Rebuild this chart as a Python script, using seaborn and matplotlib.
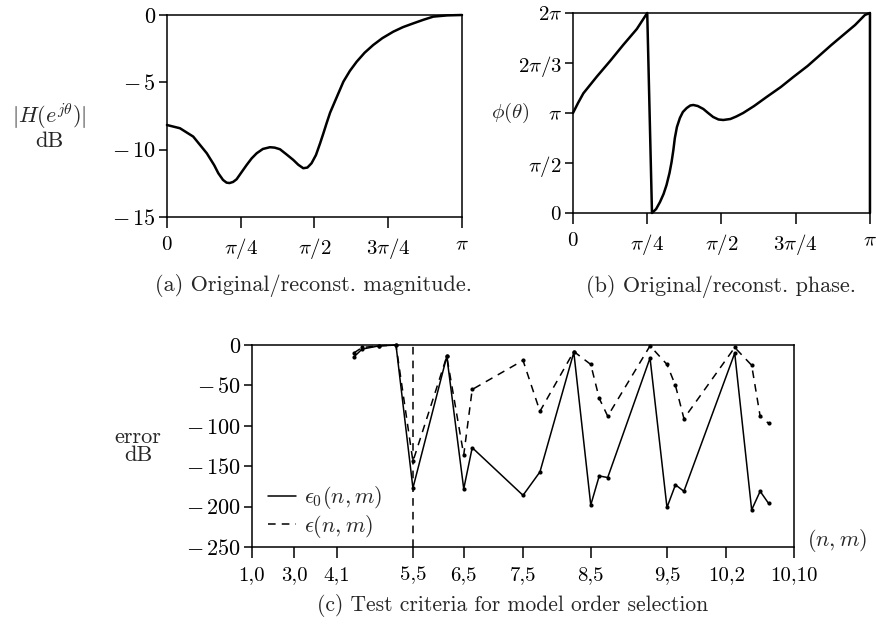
import numpy as np
import pandas as pd
import seaborn as sns
import matplotlib.pyplot as plt

# ---------------- data ----------------
# (a) magnitude, theta in units of pi
theta_mag = [0, .044, .089, .135, .160, .174, .190, .202, .212, .224, .236,
             .252, .270, .287, .304, .325, .349, .365, .383, .405, .428,
             .445, .462, .476, .490, .505, .519, .530, .541, .553, .569,
             .598, .620, .643, .670, .699, .730, .767, .800, .835, .870,
             .903, .950, 1.0]
mag_db = [-8.17, -8.41, -9.03, -10.27, -11.15, -11.75, -12.25, -12.45,
          -12.48, -12.4, -12.2, -11.7, -11.14, -10.65, -10.27, -9.95, -9.82,
          -9.85, -9.97, -10.35, -10.76, -11.12, -11.38, -11.33, -11.01,
          -10.4, -9.53, -8.8, -8.04, -7.25, -6.43, -4.95, -4.15, -3.47,
          -2.8, -2.23, -1.72, -1.24, -0.9, -0.62, -0.35, -0.12, -0.03, 0.0]

# (b) phase, theta and phi in units of pi
theta_ph = [0, .017, .035, .080, .125, .169, .215, .25, .266, .280, .293,
            .305, .315, .325, .332, .338, .343, .350, .360, .370, .383,
            .395, .405, .420, .439, .455, .472, .490, .506, .530, .550,
            .573, .610, .652, .700, .742, .790, .832, .870, .910, .950,
            .983, 1.0, 1.0]
phase_pi = [1.0, 1.10, 1.197, 1.363, 1.52, 1.68, 1.84, 2.0, 0.0, 0.04, 0.11,
            0.19, 0.28, 0.40, 0.51, 0.63, 0.75, 0.86, 0.95, 1.01, 1.05,
            1.075, 1.08, 1.07, 1.04, 1.0, 0.96, 0.935, 0.93, 0.94, 0.965,
            1.0, 1.07, 1.16, 1.26, 1.36, 1.47, 1.58, 1.68, 1.78, 1.88,
            1.98, 2.0, 0.0]

# (c) test criteria vs model order (n,m)
n_ord = [4, 4, 5, 5, 5, 6, 6, 6, 7, 7, 8, 8, 8, 8, 9, 9, 9, 9, 10, 10, 10, 10]
m_ord = [3, 4, 1, 3, 5, 3, 5, 6, 5, 7, 3, 5, 6, 7, 3, 5, 6, 7, 3, 5, 6, 7]
eps0 = [-15, -5, -1, 0, -177, -14, -178, -127, -186, -157, -9, -198, -162,
        -164, -16, -201, -173, -181, -10, -204, -181, -196]
eps = [-10, -3, -1, 0, -144, -14, -136, -55, -19, -82, -8, -24, -66, -88,
       -1, -24, -50, -91, -3, -25, -88, -97]
tick_orders = [(1, 0), (3, 0), (4, 1), (5, 5), (6, 5), (7, 5), (8, 5),
               (9, 5), (10, 2), (10, 10)]
selected = (5, 5)


def order_index(n, m):
    # position of (n,m) when orders are listed as (1,0),(1,1),(2,0),...
    return (n - 1) * (n + 2) // 2 + m


def neg(v):
    # tick label with a little room after the minus sign, as in the print
    return '$0$' if v == 0 else r'$-\,%d$' % abs(v)


sns.set_style("ticks")
plt.rcParams.update({
    'font.family': 'cmr10',
    'mathtext.fontset': 'cm',
    'axes.unicode_minus': False,
    'axes.formatter.use_mathtext': True,
    'axes.linewidth': 1.1,
    'xtick.direction': 'out', 'ytick.direction': 'out',
    'xtick.major.size': 8, 'ytick.major.size': 6,
    'xtick.major.width': 1.1, 'ytick.major.width': 1.1,
    'xtick.labelsize': 15, 'ytick.labelsize': 16,
    'xtick.color': 'k', 'ytick.color': 'k',
    'axes.edgecolor': 'k',
})

fig = plt.figure(figsize=(8.76, 6.3), dpi=100)
ax_a = fig.add_axes([0.1906, 0.6556, 0.3368, 0.3206])
ax_b = fig.add_axes([0.6541, 0.6619, 0.3390, 0.3175])
ax_c = fig.add_axes([0.2877, 0.1317, 0.6187, 0.3206])

pi_ticks = [0, np.pi / 4, np.pi / 2, 3 * np.pi / 4, np.pi]
pi_labels = ['$0$', r'$\pi/4$', r'$\pi/2$', r'$3\pi/4$', r'$\pi$']

#------------------------------- (a) magnitude -------------------------------
df_a = pd.DataFrame({'theta': np.array(theta_mag) * np.pi, 'mag': mag_db})
sns.lineplot(data=df_a, x='theta', y='mag', ax=ax_a, color='k', lw=1.8,
             estimator=None, sort=False, clip_on=False)
ax_a.set_xlim(0, np.pi)
ax_a.set_ylim(-15, 0)
ax_a.set_xticks(pi_ticks, pi_labels)
ax_a.set_yticks([0, -5, -10, -15], [neg(v) for v in [0, -5, -10, -15]])
ax_a.set_xlabel('')
ax_a.set_ylabel('$|H(e^{j\\theta})|$\ndB', rotation=0, fontsize=16,
                ha='center', va='center', linespacing=1.0)
ax_a.yaxis.set_label_coords(-0.40, 0.45)
ax_a.tick_params(axis='y', pad=2)
ax_a.tick_params(axis='x', pad=6)
ax_a.text(0.495, -0.34, '(a) Original/reconst. magnitude.', fontsize=16,
          transform=ax_a.transAxes, ha='center', va='center')

#------------------------------- (b) phase -----------------------------------
df_b = pd.DataFrame({'theta': np.array(theta_ph) * np.pi,
                     'phi': np.array(phase_pi) * np.pi})
sns.lineplot(data=df_b, x='theta', y='phi', ax=ax_b, color='k', lw=1.8,
             estimator=None, sort=False, clip_on=False)
ax_b.set_xlim(0, np.pi)
ax_b.set_ylim(0, 2 * np.pi)
ax_b.set_xticks(pi_ticks, pi_labels)
ax_b.set_yticks([0, np.pi / 2, np.pi, 3 * np.pi / 2, 2 * np.pi],
                ['$0$', r'$\pi/2$', r'$\pi$', r'$2\pi/3$', r'$2\pi$'],
                fontsize=15)
ax_b.set_xlabel('')
ax_b.set_ylabel(r'$\phi(\theta)$', rotation=0, fontsize=15,
                ha='center', va='center')
ax_b.yaxis.set_label_coords(-0.21, 0.5)
ax_b.tick_params(axis='y', pad=2)
ax_b.tick_params(axis='x', pad=6)
ax_b.text(0.50, -0.365, '(b) Original/reconst. phase.', fontsize=16,
          transform=ax_b.transAxes, ha='center', va='center')

#------------------------------- (c) test criteria ---------------------------
df_c = pd.DataFrame({'n': n_ord, 'm': m_ord, 'eps0': eps0, 'eps': eps})
df_c['idx'] = [order_index(n, m) for n, m in zip(df_c.n, df_c.m)]

sns.lineplot(data=df_c, x='idx', y='eps0', ax=ax_c, color='k', lw=1.1,
             estimator=None, sort=False, label=r'$\epsilon_0(n,m)$',
             clip_on=False)
sns.lineplot(data=df_c, x='idx', y='eps', ax=ax_c, color='k', lw=1.1,
             linestyle=(0, (5, 4)), estimator=None, sort=False,
             label=r'$\epsilon(n,m)$', clip_on=False)
sns.scatterplot(data=df_c, x='idx', y='eps0', ax=ax_c, color='k', s=9,
                linewidth=0, clip_on=False)
sns.scatterplot(data=df_c, x='idx', y='eps', ax=ax_c, color='k', s=9,
                linewidth=0, clip_on=False)
ax_c.axvline(order_index(*selected), color='k', lw=1.1, linestyle=(0, (5, 4)))

ax_c.set_xlim(0, order_index(10, 10))
ax_c.set_ylim(-250, 0)
ax_c.set_xticks([order_index(n, m) for n, m in tick_orders],
                [f'{n},{m}' for n, m in tick_orders])
c_yt = [0, -50, -100, -150, -200, -250]
ax_c.set_yticks(c_yt, [neg(v) for v in c_yt])
ax_c.tick_params(axis='y', pad=2)
ax_c.tick_params(axis='x', pad=6)
ax_c.set_xlabel('$(n,m)$', fontsize=16, ha='center', va='center')
ax_c.xaxis.set_label_coords(1.08, 0.03)
ax_c.set_ylabel('error\ndB', rotation=0, fontsize=16, ha='center',
                va='center', linespacing=0.9)
ax_c.yaxis.set_label_coords(-0.21, 0.5)
ax_c.legend(loc='lower left', bbox_to_anchor=(0.0, -0.04), frameon=False,
            fontsize=16, handlelength=1.3, borderaxespad=0.3,
            labelspacing=0.05, handletextpad=0.35)
ax_c.text(0.48, -0.29, '(c) Test criteria for model order selection',
          fontsize=15.5, transform=ax_c.transAxes, ha='center', va='center')

plt.savefig('out.png', dpi=100)
